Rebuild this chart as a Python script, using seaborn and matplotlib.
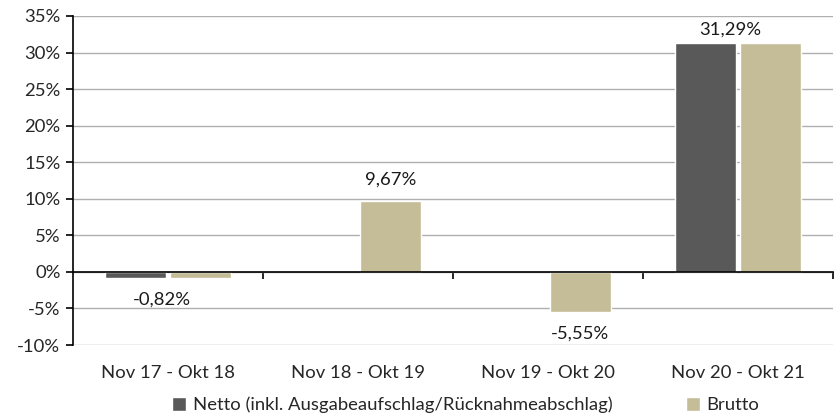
import numpy as np
import pandas as pd
import matplotlib
matplotlib.use("Agg")
import matplotlib.pyplot as plt
from matplotlib.ticker import FuncFormatter, FixedLocator
import seaborn as sns

# Daten
perioden = ["Nov 17 - Okt 18", "Nov 18 - Okt 19", "Nov 19 - Okt 20", "Nov 20 - Okt 21"]
netto = [-0.82, np.nan, np.nan, 31.29]
brutto = [-0.82, 9.67, -5.55, 31.29]
serien = ["Netto (inkl. Ausgabeaufschlag/Rücknahmeabschlag)", "Brutto"]
farben = ["#595959", "#C4BD97"]

# Beschriftungs-Versatz (Pixel) je Balken der Brutto-Reihe
label_dx = [-38, 0, 0, -40]
label_dy = [-22, 22, -21, 13]

df = pd.DataFrame({
    "Periode": perioden * 2,
    "Serie": [serien[0]] * 4 + [serien[1]] * 4,
    "Wert": netto + brutto,
})

sns.set_style("white")
plt.rcParams["font.family"] = ["Lato", "DejaVu Sans"]
plt.rcParams["axes.unicode_minus"] = False
fs = 13.3

fig = plt.figure(figsize=(8.4, 4.18), dpi=100)
ax = fig.add_axes([73 / 840, 1 - 345 / 418, (833 - 73) / 840, (345 - 16) / 418])

sns.barplot(data=df, x="Periode", y="Wert", hue="Serie", palette=farben,
            width=0.68, gap=0.06, ax=ax, saturation=1, legend=True)

ax.set_ylim(-10, 35)
ax.set_xlim(-0.5, 3.5)
ax.set_yticks(np.arange(-10, 36, 5))
ax.yaxis.set_major_formatter(FuncFormatter(lambda v, p: "{:d}%".format(int(round(v)))))
ax.grid(axis="y", color="#AFAFAF", linewidth=1.0)
ax.set_axisbelow(True)
ax.set_xlabel("")
ax.set_ylabel("")

for s in ["top", "right"]:
    ax.spines[s].set_visible(False)
ax.spines["left"].set_color("black")
ax.spines["left"].set_linewidth(1.2)
ax.spines["bottom"].set_position(("data", 0))
ax.spines["bottom"].set_color("black")
ax.spines["bottom"].set_linewidth(1.2)

ax.tick_params(axis="y", direction="out", length=5, width=1.2, color="black",
               labelsize=fs, pad=4, left=True)
ax.xaxis.set_minor_locator(FixedLocator([0.5, 1.5, 2.5, 3.5]))
ax.tick_params(axis="x", which="minor", direction="out", length=5, width=1.2,
               color="black", bottom=True)
ax.tick_params(axis="x", which="major", length=0, labelsize=fs, pad=67)

# Datenbeschriftungen (Brutto)
for i, bar in enumerate(ax.containers[1]):
    v = brutto[i]
    x = bar.get_x() + bar.get_width() / 2
    txt = "{:.2f}%".format(v).replace(".", ",")
    ax.annotate(txt, (x, v), xytext=(label_dx[i] * 0.72, label_dy[i] * 0.72),
                textcoords="offset points", ha="center", va="center",
                fontsize=fs, color="#1a1a1a")

handles, labels = ax.get_legend_handles_labels()
ax.legend_.remove()
fig.legend(handles, labels, loc="center", bbox_to_anchor=(466 / 840, 1 - 405 / 418),
           ncol=2, frameon=False, fontsize=fs, handlelength=0.75, handleheight=0.75,
           handletextpad=0.35, columnspacing=4.0)

fig.savefig("out.png", dpi=100)
